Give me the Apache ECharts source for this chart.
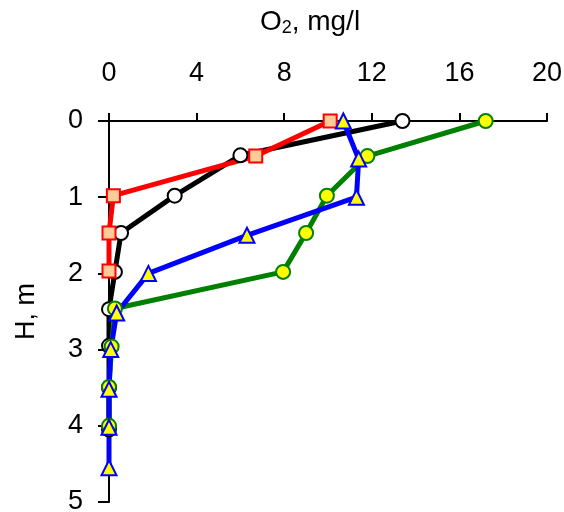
<!DOCTYPE html>
<html>
<head>
<meta charset="utf-8">
<script src="https://cdn.jsdelivr.net/npm/echarts@6/dist/echarts.min.js"></script>
<style>html,body{margin:0;padding:0;background:#fff}#c{width:564px;height:512px}</style>
</head>
<body>
<div id="c"></div>
<script>
// O2 (mg/l) vs depth H (m)
var blackO2 = [13.4, 6.0, 3.0, 0.55, 0.27, 0.0, 0.0, 0.0, 0.0];
var blackH  = [0, 0.45, 0.98, 1.47, 1.98, 2.47, 2.95, 3.5, 4.05];
var redO2 = [10.1, 6.7, 0.2, 0.0, 0.0];
var redH  = [0, 0.46, 0.98, 1.47, 1.97];
var blueO2 = [10.7, 11.4, 11.3, 6.3, 1.8, 0.35, 0.08, 0.0, 0.0, 0.0];
var blueH  = [0, 0.5, 1.0, 1.5, 2.0, 2.52, 3.0, 3.52, 4.02, 4.55];
var greenO2 = [17.2, 11.8, 9.95, 9.0, 7.95, 0.27, 0.12, 0.0, 0.0];
var greenH  = [0, 0.46, 0.98, 1.47, 1.98, 2.46, 2.96, 3.49, 4.0];
var xTicks = [0, 4, 8, 12, 16, 20];
var yTicks = [0, 1, 2, 3, 4, 5];

function pts(xs, ys){ return xs.map(function(v,i){ return [v, ys[i]]; }); }

var defs = [
  {d: pts(blackO2, blackH), line:'#000000', fill:'#ffffff', sym:'circle', size:14},
  {d: pts(greenO2, greenH), line:'#008000', fill:'#ffff00', sym:'circle', size:14},
  {d: pts(redO2, redH), line:'#ff0000', fill:'#ffcc99', sym:'rect', size:13},
  {d: pts(blueO2, blueH), line:'#0000ff', fill:'#ffff00', sym:'triangle', size:15}
];
var series = [];
defs.forEach(function(s, i){
  series.push({type:'line', data:s.d, symbol:'none', z:2+i*0.01, silent:true,
    lineStyle:{color:s.line, width:5}, animation:false});
});
defs.forEach(function(s, i){
  series.push({type:'scatter', data:s.d, symbol:s.sym, symbolSize:s.size, z:3+i*0.01,
    itemStyle:{color:s.fill, borderColor:s.line, borderWidth:2, opacity:1}, animation:false});
});

var F = 'Liberation Sans';
var chart = echarts.init(document.getElementById('c'));
chart.setOption({
  animation:false,
  grid:{left:109, right:17, top:121, bottom:10, containLabel:false, outerBoundsMode:'none'},
  xAxis:{type:'value', position:'top', min:0, max:20, interval:4,
    name:'{a|O}{s|2}{a|, mg/l}', nameLocation:'middle', nameGap:84,
    nameTextStyle:{padding:[0,36,0,0], rich:{a:{fontFamily:F, fontSize:28, color:'#000'}, s:{fontFamily:F, fontSize:18, color:'#000', verticalAlign:'bottom', padding:[12,0,0,0]}}},
    axisLine:{show:true, lineStyle:{color:'#000', width:2}},
    axisTick:{show:true, length:8, lineStyle:{color:'#000', width:2}},
    axisLabel:{margin:34, fontFamily:F, fontSize:27, color:'#000',
      formatter:function(v){ return xTicks.indexOf(v)>=0 ? String(v) : ''; }},
    splitLine:{show:false}},
  yAxis:{type:'value', inverse:true, min:0, max:5, interval:1,
    name:'H, m', nameLocation:'middle', nameGap:69, nameRotate:90,
    nameTextStyle:{fontFamily:F, fontSize:27, color:'#000'},
    axisLine:{show:true, lineStyle:{color:'#000', width:2}},
    axisTick:{show:true, length:11, lineStyle:{color:'#000', width:2}},
    axisLabel:{margin:26, fontFamily:F, fontSize:27, color:'#000',
      formatter:function(v){ return yTicks.indexOf(v)>=0 ? String(v) : ''; }},
    splitLine:{show:false}},
  series:series
});
</script>
</body>
</html>
